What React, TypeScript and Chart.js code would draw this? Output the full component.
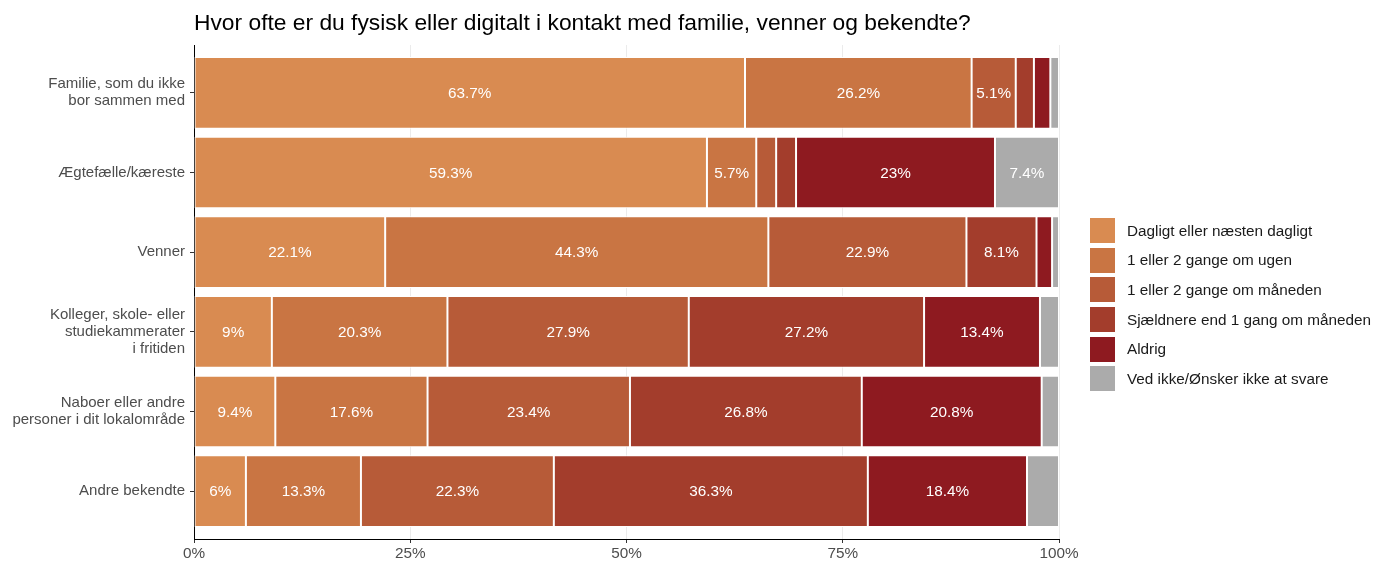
import React, { useEffect, useRef } from "react";
import { Chart, registerables } from "chart.js";

Chart.register(...registerables);

const title = "Hvor ofte er du fysisk eller digitalt i kontakt med familie, venner og bekendte?";

const categories: string[][] = [
  ["Familie, som du ikke", "bor sammen med"],
  ["Ægtefælle/kæreste"],
  ["Venner"],
  ["Kolleger, skole- eller", "studiekammerater", "i fritiden"],
  ["Naboer eller andre", "personer i dit lokalområde"],
  ["Andre bekendte"],
];

const seriesNames = [
  "Dagligt eller næsten dagligt",
  "1 eller 2 gange om ugen",
  "1 eller 2 gange om måneden",
  "Sjældnere end 1 gang om måneden",
  "Aldrig",
  "Ved ikke/Ønsker ikke at svare",
];

const seriesColors = ["#D98B51", "#C97543", "#B75B38", "#A33D2C", "#8E1A20", "#ABABAB"];

const daglig = [63.7, 59.3, 22.1, 9, 9.4, 6];
const ugen = [26.2, 5.7, 44.3, 20.3, 17.6, 13.3];
const maaned = [5.1, 2.3, 22.9, 27.9, 23.4, 22.3];
const sjaeldnere = [2.1, 2.3, 8.1, 27.2, 26.8, 36.3];
const aldrig = [1.9, 23, 1.8, 13.4, 20.8, 18.4];
const vedIkke = [1.0, 7.4, 0.8, 2.2, 2.0, 3.7];

const seriesValues = [daglig, ugen, maaned, sjaeldnere, aldrig, vedIkke];

const xTicks = [0, 25, 50, 75, 100];

const FONT = "'Liberation Sans', Arial, sans-serif";
const FS = 15.3;

const labelPlugin = {
  id: "segLabels",
  afterDatasetsDraw(chart: any) {
    const ctx = chart.ctx;
    ctx.save();
    ctx.font = `${FS}px ${FONT}`;
    ctx.fillStyle = "#ffffff";
    ctx.textAlign = "center";
    ctx.textBaseline = "middle";
    chart.data.datasets.forEach((ds: any, di: number) => {
      const meta = chart.getDatasetMeta(di);
      meta.data.forEach((el: any, i: number) => {
        const v = seriesValues[di][i];
        if (v < 4) return;
        const cx = (el.x + el.base) / 2;
        ctx.fillText(String(v) + "%", cx, el.y + 1);
      });
    });
    ctx.restore();
  },
};

export default function App() {
  const ref = useRef<HTMLCanvasElement | null>(null);

  useEffect(() => {
    if (!ref.current) return;
    const chart = new Chart(ref.current, {
      type: "bar",
      data: {
        datasets: seriesNames.map((name, di) => ({
          label: name,
          data: seriesValues[di].map((v, i) => ({ x: v, y: i + 1 })),
          backgroundColor: seriesColors[di],
          borderColor: "#ffffff",
          borderWidth: 1,
          borderSkipped: false,
          barPercentage: 0.9,
          categoryPercentage: 1,
        })),
      },
      plugins: [labelPlugin],
      options: {
        indexAxis: "y",
        animation: false,
        responsive: true,
        maintainAspectRatio: false,
        layout: { padding: { top: 45, right: 316, bottom: 0, left: 0 } },
        plugins: {
          legend: { display: false },
          tooltip: { enabled: false },
          title: { display: false },
        },
        scales: {
          x: {
            type: "linear",
            stacked: true,
            min: 0,
            max: 100,
            afterBuildTicks: (axis: any) => {
              axis.ticks = xTicks.map((v) => ({ value: v }));
            },
            afterFit: (axis: any) => {
              axis.height = 22;
            },
            ticks: {
              callback: (v: any) => v + "%",
              color: "#4d4d4d",
              font: { size: FS, family: FONT },
              padding: 2,
              maxRotation: 0,
            },
            grid: {
              color: "#ebebeb",
              tickColor: "#333333",
              tickLength: 4,
            },
            border: { display: true, color: "#000000", width: 1 },
          },
          y: {
            type: "linear",
            stacked: true,
            reverse: true,
            offset: false,
            min: 0.4,
            max: 6.6,
            afterBuildTicks: (axis: any) => {
              axis.ticks = categories.map((_, i) => ({ value: i + 1 }));
            },
            afterFit: (axis: any) => {
              axis.width = 194;
            },
            ticks: {
              callback: (v: any) => categories[Math.round(v) - 1] as any,
              color: "#4d4d4d",
              font: { size: 15, family: FONT, lineHeight: 1.13 },
              padding: 5,
            },
            grid: {
              display: true,
              offset: false,
              drawOnChartArea: false,
              tickColor: "#333333",
              tickLength: 4,
            },
            border: { display: true, color: "#000000", width: 1 },
          },
        },
      },
    } as any);
    return () => chart.destroy();
  }, []);

  return (
    <div
      style={{
        position: "fixed",
        left: 0,
        top: 0,
        width: 1375,
        height: 561,
        background: "#ffffff",
        fontFamily: FONT,
      }}
    >
      <canvas ref={ref} style={{ position: "absolute", left: 0, top: 0, width: 1375, height: 561 }} />
      <div
        style={{
          position: "absolute",
          left: 194,
          top: 8,
          fontSize: 22.8,
          lineHeight: "28px",
          color: "#000000",
          whiteSpace: "nowrap",
        }}
      >
        {title}
      </div>
      <div style={{ position: "absolute", left: 1090, top: 218 }}>
        {seriesNames.map((name, i) => (
          <div
            key={name}
            style={{ display: "flex", alignItems: "center", height: 25, marginBottom: 4.7 }}
          >
            <div style={{ width: 25, height: 25, background: seriesColors[i] }} />
            <div style={{ marginLeft: 12, fontSize: FS, color: "#1a1a1a", whiteSpace: "nowrap" }}>
              {name}
            </div>
          </div>
        ))}
      </div>
    </div>
  );
}
